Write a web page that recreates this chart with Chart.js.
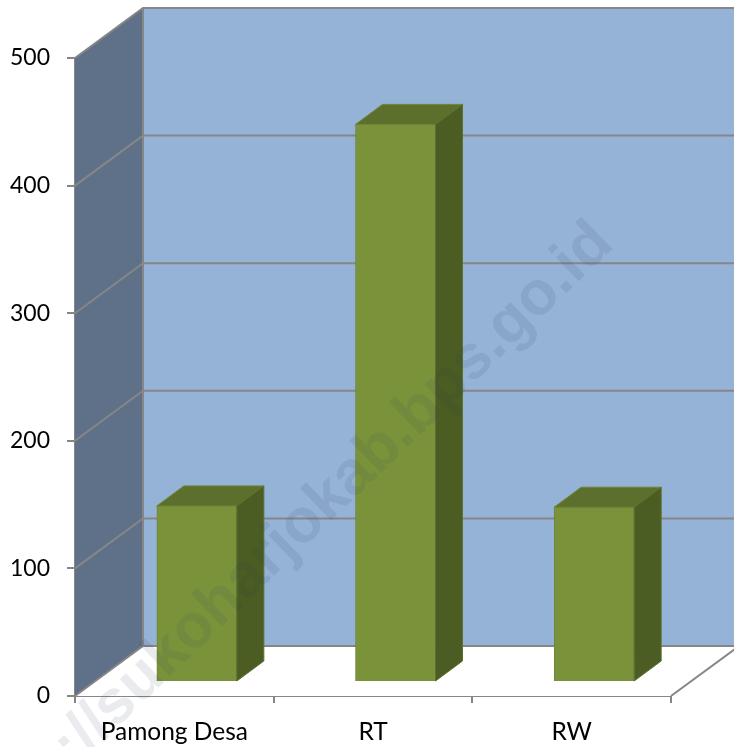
<!DOCTYPE html>
<html>
<head>
<meta charset="utf-8">
<style>
  html, body { margin: 0; padding: 0; background: #fff; }
  #wrap { width: 734px; height: 747px; }
</style>
<script src="https://cdn.jsdelivr.net/npm/chart.js@4"></script>
</head>
<body>
<div id="wrap"><canvas id="bars" width="734" height="747"></canvas></div>
<script>
const categories = ["Pamong Desa", "RT", "RW"];
const values = [138, 437, 137];
const y_ticks = [0, 100, 200, 300, 400, 500];
const watermark = "http://sukoharjokab.bps.go.id";

// depth of the fake 3D box and of the bars, in px
const wall_dx = 68, wall_dy = -50;
const bar_dx = 27, bar_dy = -20;
const bar_shift_x = 22.5, bar_shift_y = -14;
const line_color = "#868686";

function poly(ctx, pts, fill, stroke) {
    ctx.beginPath();
    pts.forEach((p, i) => i ? ctx.lineTo(p[0], p[1]) : ctx.moveTo(p[0], p[1]));
    ctx.closePath();
    if (fill) { ctx.fillStyle = fill; ctx.fill(); }
    if (stroke) { ctx.strokeStyle = stroke; ctx.lineWidth = 1; ctx.stroke(); }
}

const box_walls = {
    id: "box_walls",
    beforeDatasetsDraw(chart) {
        const ctx = chart.ctx, y = chart.scales.y, x = chart.scales.x;
        const l = x.left, r = x.right, b = y.getPixelForValue(0), t = y.getPixelForValue(500);
        ctx.save();
        // back wall, side wall, floor
        poly(ctx, [[l + wall_dx, t + wall_dy], [r + wall_dx, t + wall_dy], [r + wall_dx, b + wall_dy], [l + wall_dx, b + wall_dy]], "#95b3d7");
        poly(ctx, [[l, b], [l, t], [l + wall_dx, t + wall_dy], [l + wall_dx, b + wall_dy]], "#5f7189");
        poly(ctx, [[l, b], [r, b], [r + wall_dx, b + wall_dy], [l + wall_dx, b + wall_dy]], "#ffffff");
        // gridlines run along side wall then back wall
        ctx.strokeStyle = line_color;
        ctx.lineWidth = 2;
        y_ticks.forEach(v => {
            const py = y.getPixelForValue(v);
            ctx.beginPath();
            ctx.moveTo(l, py);
            ctx.lineTo(l + wall_dx, py + wall_dy);
            ctx.lineTo(r + wall_dx, py + wall_dy);
            ctx.stroke();
        });
        ctx.beginPath();
        ctx.moveTo(l + wall_dx, t + wall_dy);
        ctx.lineTo(l + wall_dx, b + wall_dy);
        ctx.moveTo(r, b);
        ctx.lineTo(r + wall_dx, b + wall_dy);
        ctx.stroke();
        ctx.restore();
        // bars sit in the middle of the floor
        ctx.save();
        ctx.translate(bar_shift_x, bar_shift_y);
    },
    afterDatasetsDraw(chart) {
        const ctx = chart.ctx;
        chart.getDatasetMeta(0).data.forEach(bar => {
            const x1 = bar.x - bar.width / 2, x2 = bar.x + bar.width / 2;
            poly(ctx, [[x1, bar.y], [x2, bar.y], [x2 + bar_dx, bar.y + bar_dy], [x1 + bar_dx, bar.y + bar_dy]], "#5c6f2d", "#6f8538");
            poly(ctx, [[x2, bar.y], [x2 + bar_dx, bar.y + bar_dy], [x2 + bar_dx, bar.base + bar_dy], [x2, bar.base]], "#4c5d23", "#5c7030");
        });
        ctx.restore();
    },
    afterDraw(chart) {
        const ctx = chart.ctx;
        ctx.save();
        ctx.translate(-9, 849);
        ctx.rotate(-44 * Math.PI / 180);
        ctx.font = "bold 62px 'Liberation Sans'";
        ctx.fillStyle = "rgba(40,60,90,0.1)";
        ctx.textBaseline = "alphabetic";
        ctx.fillText(watermark, 0, 0);
        ctx.restore();
    }
};

new Chart(document.getElementById("bars").getContext("2d"), {
    type: "bar",
    plugins: [box_walls],
    data: {
        labels: categories,
        datasets: [{
            data: values,
            backgroundColor: "#7a933b",
            borderColor: "#6f8538",
            borderWidth: 1,
            barThickness: 80
        }]
    },
    options: {
        responsive: false,
        animation: false,
        layout: { padding: { top: 58, right: 63, left: 0, bottom: 0 } },
        plugins: { legend: { display: false }, tooltip: { enabled: false } },
        scales: {
            x: {
                afterFit: s => { s.height = 51; },
                grid: { drawOnChartArea: false, color: line_color, tickLength: 7, lineWidth: 2 },
                border: { color: line_color, width: 2 },
                ticks: { color: "#000", padding: 14, maxRotation: 0, font: { family: "Lato", size: 24.5 } }
            },
            y: {
                min: 0,
                max: 500,
                afterFit: s => { s.width = 75; },
                afterBuildTicks: s => { s.ticks = y_ticks.map(v => ({ value: v })); },
                grid: { drawOnChartArea: false, color: line_color, tickLength: 8, lineWidth: 2 },
                border: { color: line_color, width: 2 },
                ticks: { color: "#000", padding: 17, font: { family: "Lato", size: 23 } }
            }
        }
    }
});
</script>
</body>
</html>
